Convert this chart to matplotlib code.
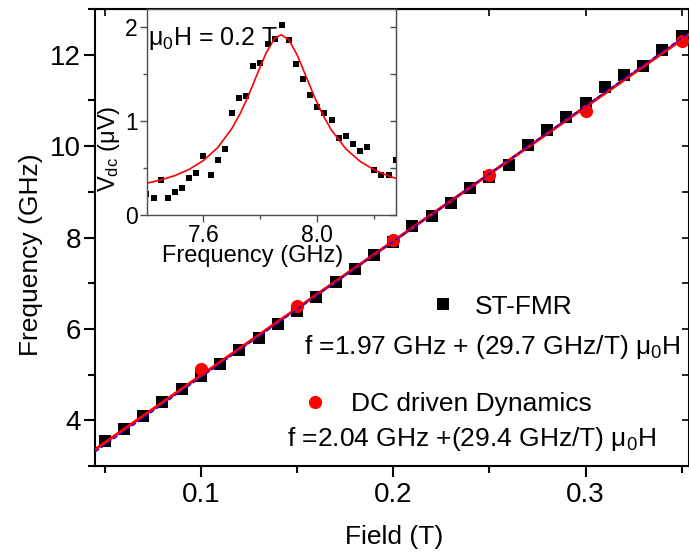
import numpy as np
import matplotlib
matplotlib.use('Agg')
import matplotlib.pyplot as plt
from matplotlib.ticker import MultipleLocator, FormatStrFormatter

plt.rcParams['font.family'] = ['Liberation Sans', 'DejaVu Sans']
plt.rcParams['mathtext.default'] = 'regular'

# main panel: resonance frequency vs field
field_fmr = [0.05, 0.06, 0.07, 0.08, 0.09, 0.10, 0.11, 0.12, 0.13, 0.14, 0.15,
             0.16, 0.17, 0.18, 0.19, 0.20, 0.21, 0.22, 0.23, 0.24, 0.25, 0.26,
             0.27, 0.28, 0.29, 0.30, 0.31, 0.32, 0.33, 0.34, 0.35]
freq_fmr = [3.54, 3.81, 4.10, 4.39, 4.68, 4.97, 5.24, 5.54, 5.81, 6.10, 6.39,
            6.70, 7.02, 7.32, 7.61, 7.90, 8.25, 8.47, 8.76, 9.09, 9.32, 9.59,
            10.02, 10.36, 10.64, 10.94, 11.29, 11.56, 11.76, 12.11, 12.40]
field_dc = [0.10, 0.15, 0.20, 0.25, 0.30, 0.35]
freq_dc = [5.13, 6.50, 7.94, 9.36, 10.76, 12.29]

# linear fits: (offset GHz, slope GHz/T)
fit_fmr = (1.97, 29.7)
fit_dc = (2.04, 29.4)

# inset: Vdc spectrum at 0.2 T
f_inset = [7.400, 7.425, 7.450, 7.475, 7.500, 7.525, 7.550, 7.575, 7.600,
           7.625, 7.650, 7.675, 7.700, 7.725, 7.750, 7.775, 7.800, 7.825,
           7.850, 7.875, 7.900, 7.925, 7.950, 7.975, 8.000, 8.025, 8.050,
           8.075, 8.100, 8.125, 8.150, 8.175, 8.200, 8.225, 8.250, 8.275]
vdc_inset = [0.22, 0.18, 0.37, 0.18, 0.24, 0.29, 0.39, 0.45, 0.63,
             0.42, 0.59, 0.70, 1.08, 1.24, 1.26, 1.58, 1.62, 1.82,
             1.87, 2.02, 1.86, 1.61, 1.45, 1.28, 1.15, 1.08, 1.01,
             0.82, 0.84, 0.75, 0.68, 0.72, 0.48, 0.43, 0.43, 0.58]
# Lorentzian fit curve
f_fit = [7.40, 7.45, 7.50, 7.55, 7.60, 7.65, 7.70, 7.73, 7.76, 7.79, 7.82,
         7.85, 7.873, 7.90, 7.93, 7.96, 7.99, 8.02, 8.05, 8.10, 8.15, 8.20,
         8.25, 8.276]
vdc_fit = [0.337, 0.372, 0.419, 0.485, 0.579, 0.716, 0.920, 1.084, 1.283,
           1.506, 1.722, 1.877, 1.917, 1.862, 1.696, 1.475, 1.254, 1.060,
           0.900, 0.703, 0.570, 0.479, 0.415, 0.389]

W, H = 689, 560
fig = plt.figure(figsize=(W / 100, H / 100), dpi=100)
ax = fig.add_axes([95 / W, 1 - 466 / H, 594 / W, 457 / H])

ax.plot(field_fmr, freq_fmr, 's', color='black', ms=9, mew=0, zorder=2, label='ST-FMR')
ax.plot(field_dc, freq_dc, 'o', color='red', ms=9.5, mew=0, zorder=3, label='DC driven Dynamics')

ax.set_xlim(0.0449, 0.3538)
ax.set_ylim(3.0, 13.0)
xfit = np.array(ax.get_xlim())
ax.plot(xfit, fit_dc[0] + fit_dc[1] * xfit, color='red', lw=2.2, zorder=4)
ax.plot(xfit, fit_fmr[0] + fit_fmr[1] * xfit, color='blue', lw=0.9, ls=(0, (4, 2)), zorder=5)

ax.xaxis.set_major_locator(MultipleLocator(0.1))
ax.xaxis.set_minor_locator(MultipleLocator(0.05))
ax.yaxis.set_major_locator(MultipleLocator(2))
ax.yaxis.set_minor_locator(MultipleLocator(1))
ax.xaxis.set_major_formatter(FormatStrFormatter('%.1f'))
ax.tick_params(which='both', direction='out', width=1.5, labelsize=20)
ax.tick_params(which='major', length=8)
ax.tick_params(which='minor', length=5)
ax.tick_params(axis='y', pad=2)
for s in ax.spines.values():
    s.set_linewidth(1.5)

top = ax.secondary_xaxis('top')
top.xaxis.set_major_locator(MultipleLocator(0.1))
top.xaxis.set_minor_locator(MultipleLocator(0.05))
top.tick_params(which='both', direction='in', length=5, width=1.2, labeltop=False)
right = ax.secondary_yaxis('right')
right.yaxis.set_major_locator(MultipleLocator(2))
right.yaxis.set_minor_locator(MultipleLocator(1))
right.tick_params(which='both', direction='in', length=5, width=1.2, labelright=False)

ax.set_xlabel('Field (T)', fontsize=19)
ax.xaxis.set_label_coords(0.503, -0.129)
ax.set_ylabel('Frequency (GHz)', fontsize=19)
ax.yaxis.set_label_coords(-0.0875, 0.463)

h_fmr, h_dc = ax.get_lines()[:2]
leg1 = ax.legend(handles=[h_fmr], loc='center left', bbox_to_anchor=(0.563, 0.3486),
                 frameon=False, fontsize=19, handlelength=1.0, handletextpad=0.72,
                 borderpad=0, borderaxespad=0)
ax.add_artist(leg1)
ax.legend(handles=[h_dc], loc='center left', bbox_to_anchor=(0.348, 0.1357),
          frameon=False, fontsize=19, handlelength=1.0, handletextpad=0.85,
          borderpad=0, borderaxespad=0)

ax.text(0.352, 0.245, r'f =1.97 GHz + (29.7 GHz/T) $\mu_0$H', transform=ax.transAxes,
        fontsize=19, ha='left', va='baseline')
ax.text(0.3232, 0.0444, r'f =2.04 GHz +(29.4 GHz/T) $\mu_0$H', transform=ax.transAxes,
        fontsize=19, ha='left', va='baseline')

# inset
ins = fig.add_axes([146.7 / W, 1 - 215 / H, 249.3 / W, 206 / H])
ins.set_facecolor('white')
ins.plot(f_inset, vdc_inset, 's', color='black', ms=5, mew=0)
ins.plot(f_fit, vdc_fit, '-', color='red', lw=1.2)
ins.set_xlim(7.401, 8.276)
ins.set_ylim(0, 2.19)
ins.xaxis.set_major_locator(MultipleLocator(0.4))
ins.xaxis.set_minor_locator(MultipleLocator(0.2))
ins.yaxis.set_major_locator(MultipleLocator(1))
ins.yaxis.set_minor_locator(MultipleLocator(0.5))
ins.xaxis.set_major_formatter(FormatStrFormatter('%.1f'))
ins.tick_params(which='both', direction='out', width=1, labelsize=16.5, pad=1.5, color='0.3')
ins.tick_params(which='major', length=5)
ins.tick_params(which='minor', length=3)
for s in ins.spines.values():
    s.set_linewidth(1)
    s.set_color('0.3')
ins_r = ins.secondary_yaxis('right')
ins_r.yaxis.set_major_locator(MultipleLocator(1))
ins_r.yaxis.set_minor_locator(MultipleLocator(0.5))
ins_r.tick_params(which='both', direction='in', length=4, width=1, color='0.3', labelright=False)
ins_r.spines['right'].set_color('0.3')

ins.set_xlabel('Frequency (GHz)', fontsize=17)
ins.xaxis.set_label_coords(0.424, -0.145)
ins.set_ylabel(r'V$_{dc}$ ($\mu$V)', fontsize=17)
ins.yaxis.set_label_coords(-0.099, 0.32)
ins.text(0.005, 0.826, r'$\mu_0$H = 0.2 T', transform=ins.transAxes, fontsize=18,
         ha='left', va='baseline')

fig.savefig('out.png', dpi=100)
